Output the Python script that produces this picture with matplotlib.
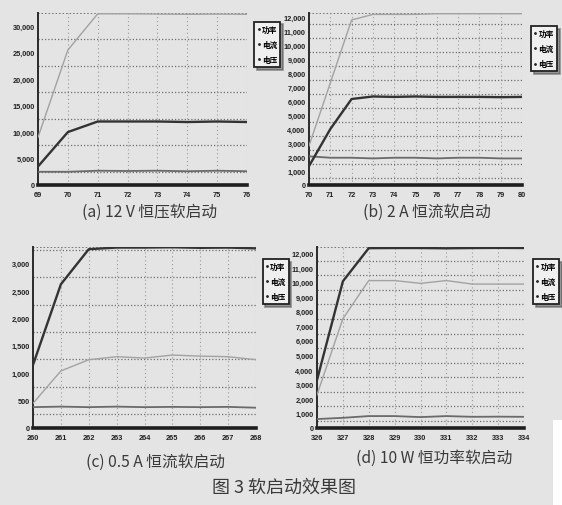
import numpy as np
import matplotlib
matplotlib.use('Agg')
import matplotlib.pyplot as plt
from matplotlib.lines import Line2D
from matplotlib.ticker import FuncFormatter

plt.rcParams['font.family'] = ['Noto Sans CJK SC', 'DejaVu Sans']

# 图3 四种软启动方式下的功率 / 电流 / 电压曲线
SERIES_NAMES = ['功率', '电流', '电压']

# (a) 12 V 恒压
a_x = [69, 70, 71, 72, 73, 74, 75, 76]
a_power = [9000, 25500, 32350, 32350, 32300, 32250, 32300, 32250]
a_current = [2500, 2500, 2700, 2650, 2700, 2600, 2700, 2600]
a_voltage = [3500, 10000, 12000, 12000, 12000, 11900, 12000, 11900]

# (b) 2 A 恒流
b_x = [70, 71, 72, 73, 74, 75, 76, 77, 78, 79, 80]
b_power = [2800, 7300, 11800, 12200, 12200, 12200, 12250, 12250, 12250, 12250, 12250]
b_current = [2050, 1950, 1950, 1900, 1950, 1950, 1900, 1950, 1950, 1900, 1900]
b_voltage = [1350, 4000, 6150, 6330, 6300, 6330, 6300, 6300, 6300, 6280, 6300]

# (c) 0.5 A 恒流
c_x = [260, 261, 262, 263, 264, 265, 266, 267, 268]
c_power = [450, 1040, 1245, 1300, 1275, 1330, 1310, 1300, 1245]
c_current = [380, 390, 380, 390, 380, 385, 380, 385, 370]
c_voltage = [1150, 2620, 3260, 3290, 3290, 3295, 3285, 3290, 3275]

# (d) 10 W 恒功率
d_x = [326, 327, 328, 329, 330, 331, 332, 333, 334]
d_power = [2280, 7520, 10140, 10140, 9950, 10140, 9900, 9900, 9900]
d_current = [615, 700, 820, 820, 750, 820, 770, 780, 770]
d_voltage = [3300, 10090, 12370, 12380, 12380, 12360, 12380, 12390, 12380]

a_yticks = [0, 5000, 10000, 15000, 20000, 25000, 30000]
b_yticks = list(range(0, 13000, 1000))
c_yticks = [0, 500, 1000, 1500, 2000, 2500, 3000]
d_yticks = list(range(0, 13000, 1000))

CAPTIONS = ['(a) 12 V 恒压软启动', '(b) 2 A 恒流软启动',
            '(c) 0.5 A 恒流软启动', '(d) 10 W 恒功率软启动']
FIG_TITLE = '图 3 软启动效果图'

BG = '#e4e4e4'
COLORS = {'功率': '#a2a2a2', '电流': '#6a6a6a', '电压': '#333333'}
WIDTHS = {'功率': 1.0, '电流': 1.3, '电压': 1.7}

W, H = 562, 506
fig = plt.figure(figsize=(W / 100, H / 100), dpi=100, facecolor=BG)


def px_axes(left, right, top, bottom):
    return fig.add_axes([left / W, 1 - bottom / H, (right - left) / W, (bottom - top) / H])


def draw_panel(ax, x, power, current, voltage, yticks, ytop, step, legend_anchor):
    ax.set_facecolor(BG)
    ax.set_xlim(x[0], x[-1])
    ax.set_ylim(0, ytop)

    # dotted grid: horizontal lines fall between the tick labels
    for yv in np.arange(step / 2, ytop, step):
        ax.axhline(yv, color='#6e6e6e', lw=0.9, ls=(0, (1, 1.6)), zorder=1)
    ax.axhline(ytop, color='#555555', lw=1.1, ls=(0, (1, 1.3)), zorder=1)
    for xv in x[1:]:
        ax.axvline(xv, color='#9a9a9a', lw=0.8, ls=(0, (1, 2.5)), zorder=1)

    for name, ys in zip(SERIES_NAMES, [power, current, voltage]):
        ax.plot(x, ys, color=COLORS[name], lw=WIDTHS[name], zorder=3)

    for side in ['top', 'right']:
        ax.spines[side].set_visible(False)
    ax.spines['left'].set_linewidth(1.4)
    ax.spines['left'].set_color('#2a2a2a')
    ax.spines['bottom'].set_linewidth(2.6)
    ax.spines['bottom'].set_color('#1e1e1e')

    ax.set_xticks(x)
    ax.set_yticks(yticks)
    ax.yaxis.set_major_formatter(FuncFormatter(lambda v, p: f'{int(v):,}'))
    ax.tick_params(length=0, labelsize=5.3, colors='#222222')
    ax.tick_params(axis='y', pad=2.5)
    ax.tick_params(axis='x', pad=4)
    for lab in ax.get_xticklabels() + ax.get_yticklabels():
        lab.set_family(['Liberation Sans', 'DejaVu Sans'])
        lab.set_fontweight('bold')

    handles = [Line2D([], [], color='#222222', marker='.', ms=2, lw=0) for _ in SERIES_NAMES]
    leg = ax.legend(handles, SERIES_NAMES, loc='upper left', bbox_to_anchor=legend_anchor,
                    frameon=True, fancybox=False, shadow=True, fontsize=5.5,
                    handlelength=0.3, handletextpad=0.3, borderpad=0.4,
                    labelspacing=0.8, borderaxespad=0)
    leg.get_frame().set_edgecolor('#222222')
    leg.get_frame().set_linewidth(1.3)
    leg.get_frame().set_facecolor('#f0f0f0')
    for t in leg.get_texts():
        t.set_fontweight('bold')


ax_a = px_axes(38, 247, 14, 186)
draw_panel(ax_a, a_x, a_power, a_current, a_voltage, a_yticks, 32500, 5000, (1.035, 0.95))
ax_b = px_axes(309, 522, 14, 186)
draw_panel(ax_b, b_x, b_power, b_current, b_voltage, b_yticks, 12300, 1000, (1.042, 0.925))
ax_c = px_axes(33, 256, 248, 429)
draw_panel(ax_c, c_x, c_power, c_current, c_voltage, c_yticks, 3300, 500, (1.03, 0.935))
ax_d = px_axes(317, 524, 248, 429)
draw_panel(ax_d, d_x, d_power, d_current, d_voltage, d_yticks, 12450, 1000, (1.043, 0.935))

caption_pos = [(150, 212), (427, 212), (156, 462), (434, 458)]
for (cx, cy), cap in zip(caption_pos, CAPTIONS):
    fig.text(cx / W, 1 - cy / H, cap, ha='center', va='center', fontsize=11.3,
             color='#3a3a3a')
fig.text(284 / W, 1 - 488 / H, FIG_TITLE, ha='center', va='center', fontsize=13,
         color='#3a3a3a')

# white paper patch at the lower right corner
fig.patches.append(plt.Rectangle((553 / W, 0), 1 - 553 / W, 1 - 421 / H,
                                 transform=fig.transFigure, facecolor='white',
                                 edgecolor='none', zorder=0))

fig.savefig('out.png', dpi=100, facecolor=BG)
